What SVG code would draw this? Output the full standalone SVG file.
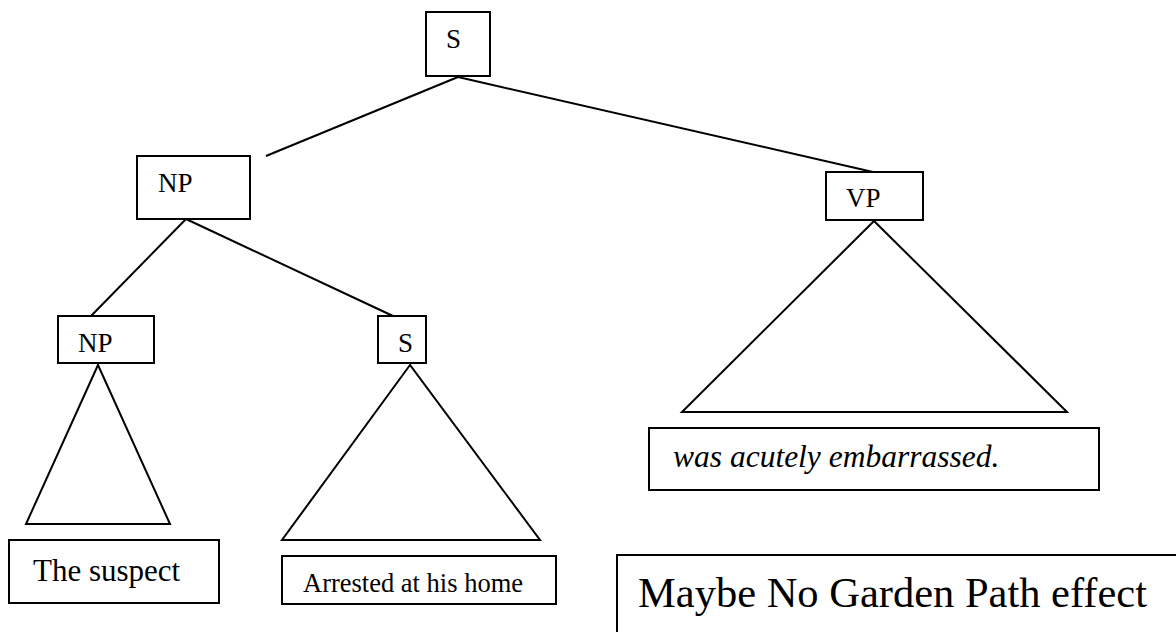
<svg xmlns="http://www.w3.org/2000/svg" width="1176" height="632" viewBox="0 0 1176 632">
<style>
.box{fill:#fff;stroke:#000;stroke-width:2}
.ln{fill:none;stroke:#000;stroke-width:2;stroke-linecap:butt}
.tri{fill:none;stroke:#000;stroke-width:2;stroke-linejoin:miter}
.lbl{font-family:"Liberation Serif","Times New Roman",serif;font-size:27px;fill:#000}
</style>
<rect width="1176" height="632" fill="#fff"/>
<g id="connectors">
<line class="ln" x1="458" y1="77" x2="266" y2="156"/>
<line class="ln" x1="458" y1="77" x2="873" y2="172"/>
<line class="ln" x1="186" y1="219" x2="91" y2="316"/>
<line class="ln" x1="186" y1="219" x2="393" y2="316"/>
<polygon class="tri" points="98,365 26,524 170,524"/>
<polygon class="tri" points="410,365 282,540 540,540"/>
<polygon class="tri" points="874,221 682,412 1067,412"/>
</g>
<g id="node-s-top">
<rect class="box" x="426" y="12" width="64" height="64"/>
<text class="lbl" x="446" y="48">S</text>
</g>
<g id="node-np">
<rect class="box" x="137" y="156" width="113" height="63"/>
<text class="lbl" x="158" y="192">NP</text>
</g>
<g id="node-vp">
<rect class="box" x="826" y="172" width="97" height="48"/>
<text class="lbl" x="846" y="207">VP</text>
</g>
<g id="node-np-lower">
<rect class="box" x="58" y="316" width="96" height="47"/>
<text class="lbl" x="78" y="352">NP</text>
</g>
<g id="node-s-lower">
<rect class="box" x="378" y="316" width="48" height="47"/>
<text class="lbl" x="398" y="352">S</text>
</g>
<g id="leaf-suspect">
<rect class="box" x="9" y="540" width="210" height="63"/>
<text class="lbl" x="33" y="581" style="font-size:31px">The suspect</text>
</g>
<g id="leaf-arrested">
<rect class="box" x="282" y="556" width="274" height="48"/>
<text class="lbl" x="303" y="592" style="font-size:26.5px">Arrested at his home</text>
</g>
<g id="leaf-vp">
<rect class="box" x="649" y="428" width="450" height="62"/>
<text class="lbl" x="673" y="467" style="font-size:31.5px;font-style:italic">was acutely embarrassed.</text>
</g>
<g id="note">
<rect class="box" x="617" y="555" width="600" height="100"/>
<text class="lbl" x="638" y="607" style="font-size:42.5px">Maybe No Garden Path effect</text>
</g>
</svg>
